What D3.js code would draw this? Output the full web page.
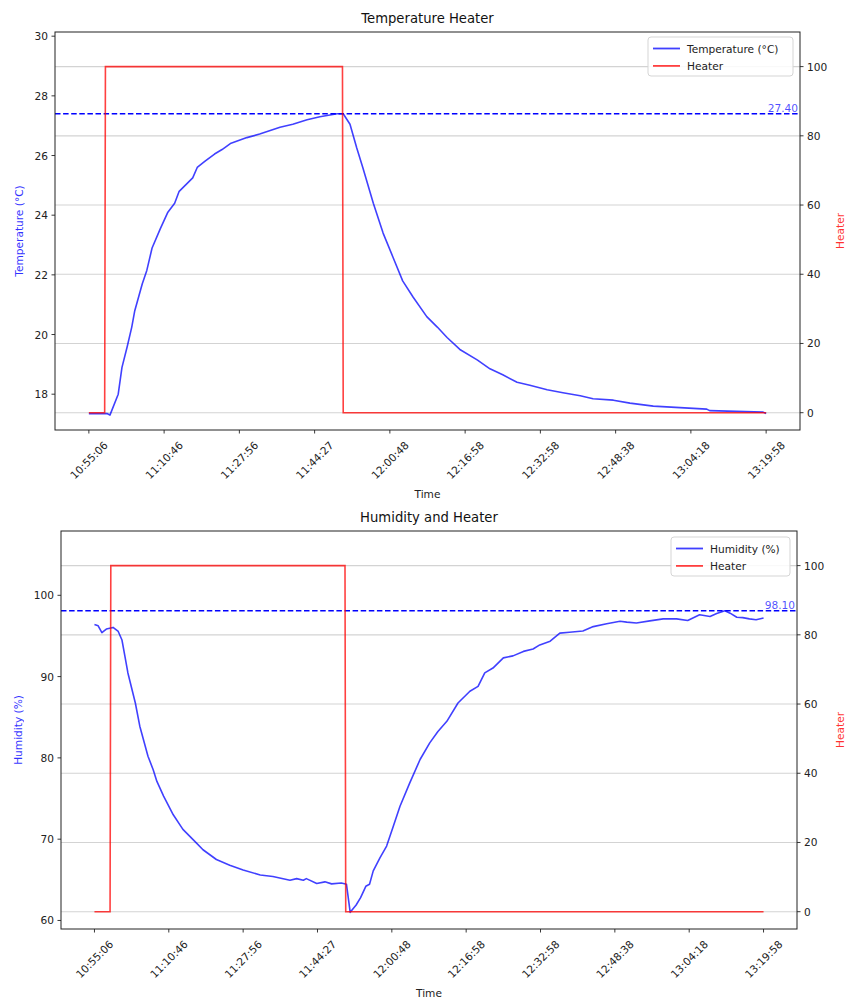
<!DOCTYPE html>
<html>
<head>
<meta charset="utf-8">
<script src="https://cdn.jsdelivr.net/npm/d3@7"></script>
<style>
  html, body { margin: 0; padding: 0; background: #fff; }
  svg { display: block; font-family: "DejaVu Sans", sans-serif; }
</style>
</head>
<body>
<svg id="chart" width="845" height="1000"></svg>
<script>
// ---------- DATA ----------
const xTickIndex = [0, 100, 200, 300, 400, 500, 600, 700, 800, 900];
const xTickLabels = ["10:55:06", "11:10:46", "11:27:56", "11:44:27", "12:00:48",
                     "12:16:58", "12:32:58", "12:48:38", "13:04:18", "13:19:58"];

const tempIndex = [0, 24, 28, 39, 44, 51, 57, 61, 71, 77, 84, 95, 105, 114, 120, 138, 144, 154,
  167, 177, 188, 210, 227, 254, 271, 290, 307, 330, 338, 347, 356, 364, 378, 391, 404, 417,
  431, 449, 463, 476, 493, 516, 533, 550, 569, 586, 609, 630, 653, 670, 697, 719, 750, 821,
  825, 896, 900];
const tempValues = [17.35, 17.35, 17.3, 18.0, 18.9, 19.6, 20.25, 20.8, 21.7, 22.15, 22.9, 23.55,
  24.1, 24.4, 24.8, 25.25, 25.6, 25.8, 26.05, 26.2, 26.4, 26.6, 26.72, 26.95, 27.05, 27.2, 27.3,
  27.4, 27.4, 27.05, 26.25, 25.6, 24.4, 23.4, 22.6, 21.8, 21.25, 20.6, 20.25, 19.9, 19.5, 19.15,
  18.85, 18.65, 18.4, 18.3, 18.15, 18.05, 17.95, 17.85, 17.8, 17.7, 17.6, 17.5, 17.45, 17.4, 17.35];

const humIndex = [0, 5, 10, 16, 25, 32, 37, 41, 45, 55, 61, 72, 79, 84, 93, 106, 119, 137, 146,
  164, 182, 200, 223, 240, 263, 272, 281, 285, 299, 310, 319, 332, 339, 344, 352, 358, 365, 370,
  375, 384, 393, 402, 411, 424, 438, 451, 462, 474, 489, 505, 516, 525, 536, 550, 563, 577, 590,
  599, 613, 626, 639, 657, 671, 689, 707, 716, 729, 747, 765, 783, 798, 814, 828, 837, 848, 855,
  864, 872, 881, 890, 900];
const humValues = [96.4, 96.25, 95.4, 95.85, 96.05, 95.55, 94.5, 92.5, 90.45, 86.75, 83.9, 80.2,
  78.55, 77.1, 75.3, 73.0, 71.2, 69.55, 68.7, 67.5, 66.8, 66.2, 65.6, 65.4, 64.95, 65.15, 64.95,
  65.15, 64.55, 64.75, 64.5, 64.6, 64.45, 61.0, 61.9, 62.8, 64.2, 64.45, 66.1, 67.7, 69.15, 71.6,
  74.05, 76.9, 79.8, 81.85, 83.25, 84.5, 86.75, 88.2, 88.8, 90.45, 91.05, 92.3, 92.55, 93.1, 93.4,
  93.9, 94.35, 95.35, 95.45, 95.6, 96.15, 96.5, 96.8, 96.7, 96.6, 96.85, 97.1, 97.1, 96.9, 97.6,
  97.4, 97.75, 98.1, 97.8, 97.3, 97.25, 97.1, 97.0, 97.2];

const heaterIndex = [0, 21, 22, 337, 338, 900];
const heaterValues = [0, 0, 100, 100, 0, 0];

const heaterTicks = [0, 20, 40, 60, 80, 100];
const tempTicks = [18, 20, 22, 24, 26, 28, 30];
const humTicks = [60, 70, 80, 90, 100];

// ---------- DRAW ----------
const svg = d3.select("#chart");
const BLUE = "rgba(0,0,255,0.75)";
const RED = "rgba(255,0,0,0.75)";
const FS = 10.6;

function drawPanel(cfg) {
  const { left, right, top, bottom, title, series, seriesIdx, yDomain, yTicks,
          yLabel, legendLabel, legendLeft, legendTop, maxLabelFmt } = cfg;
  const g = svg.append("g");
  const x = d3.scaleLinear().domain([-45, 945]).range([left, right]);
  const y = d3.scaleLinear().domain(yDomain).range([bottom, top]);
  const yh = d3.scaleLinear().domain([-5, 110]).range([bottom, top]);

  // grid from heater axis
  g.append("g").selectAll("line").data(heaterTicks).join("line")
    .attr("x1", left).attr("x2", right)
    .attr("y1", d => yh(d)).attr("y2", d => yh(d))
    .attr("stroke", "#d3d3d3").attr("stroke-width", 1.1);

  const clipId = "clip" + Math.round(top);
  g.append("clipPath").attr("id", clipId).append("rect")
    .attr("x", left).attr("y", top).attr("width", right - left).attr("height", bottom - top);

  const plot = g.append("g").attr("clip-path", `url(#${clipId})`);

  // main series
  const pts = seriesIdx.map((d, i) => [d, series[i]]);
  plot.append("path").datum(pts)
    .attr("fill", "none").attr("stroke", BLUE).attr("stroke-width", 1.6)
    .attr("stroke-linejoin", "round")
    .attr("d", d3.line().x(d => x(d[0])).y(d => y(d[1])));

  // max dashed line
  const maxV = d3.max(series);
  plot.append("line")
    .attr("x1", left).attr("x2", right)
    .attr("y1", y(maxV)).attr("y2", y(maxV))
    .attr("stroke", "#0000ff").attr("stroke-width", 1.5)
    .attr("stroke-dasharray", "5.5,2.6");
  g.append("text")
    .attr("x", right - 2).attr("y", y(maxV) - 1.5)
    .attr("text-anchor", "end").attr("font-size", FS)
    .attr("fill", "rgba(0,0,255,0.7)")
    .text(maxV.toFixed(2));

  // heater
  const hpts = heaterIndex.map((d, i) => [d, heaterValues[i]]);
  plot.append("path").datum(hpts)
    .attr("fill", "none").attr("stroke", RED).attr("stroke-width", 1.6)
    .attr("d", d3.line().x(d => x(d[0])).y(d => yh(d[1])));

  // frame
  g.append("rect").attr("x", left).attr("y", top)
    .attr("width", right - left).attr("height", bottom - top)
    .attr("fill", "none").attr("stroke", "#222").attr("stroke-width", 1);

  // left axis ticks
  const la = g.append("g");
  yTicks.forEach(t => {
    la.append("line").attr("x1", left - 3.5).attr("x2", left)
      .attr("y1", y(t)).attr("y2", y(t)).attr("stroke", "#222").attr("stroke-width", 0.9);
    la.append("text").attr("x", left - 7).attr("y", y(t))
      .attr("text-anchor", "end").attr("dominant-baseline", "central")
      .attr("font-size", FS).attr("fill", "#222").text(t);
  });
  // right axis ticks
  heaterTicks.forEach(t => {
    la.append("line").attr("x1", right).attr("x2", right + 3.5)
      .attr("y1", yh(t)).attr("y2", yh(t)).attr("stroke", "#222").attr("stroke-width", 0.9);
    la.append("text").attr("x", right + 7).attr("y", yh(t))
      .attr("text-anchor", "start").attr("dominant-baseline", "central")
      .attr("font-size", FS).attr("fill", "#222").text(t);
  });
  // x ticks
  xTickIndex.forEach((t, i) => {
    const xx = x(t);
    la.append("line").attr("x1", xx).attr("x2", xx)
      .attr("y1", bottom).attr("y2", bottom + 3.5).attr("stroke", "#222").attr("stroke-width", 0.9);
    la.append("text")
      .attr("transform", `translate(${xx},${bottom + 30}) rotate(-45)`)
      .attr("text-anchor", "middle").attr("dominant-baseline", "central")
      .attr("font-size", FS).attr("fill", "#222").text(xTickLabels[i]);
  });

  // labels
  const cx = (left + right) / 2, cy = (top + bottom) / 2;
  g.append("text").attr("x", cx).attr("y", top - 9)
    .attr("text-anchor", "middle").attr("font-size", 13.2).attr("fill", "#111").text(title);
  g.append("text").attr("x", cx).attr("y", bottom + 68)
    .attr("text-anchor", "middle").attr("font-size", FS).attr("fill", "#222").text("Time");
  g.append("text").attr("transform", `translate(${cfg.yLabelX},${cy}) rotate(-90)`)
    .attr("text-anchor", "middle").attr("dominant-baseline", "central")
    .attr("font-size", FS).attr("fill", "#0000ff").attr("opacity", 0.8).text(yLabel);
  g.append("text").attr("transform", `translate(840,${cy}) rotate(-90)`)
    .attr("text-anchor", "middle").attr("dominant-baseline", "central")
    .attr("font-size", FS).attr("fill", "#ff0000").attr("opacity", 0.8).text("Heater");

  // legend
  const lg = g.append("g");
  const lw = right - 7 - legendLeft;
  lg.append("rect").attr("x", legendLeft).attr("y", legendTop)
    .attr("width", lw).attr("height", 39).attr("rx", 3)
    .attr("fill", "rgba(255,255,255,0.85)").attr("stroke", "#d5d5d5").attr("stroke-width", 1);
  [[legendLabel, BLUE], ["Heater", RED]].forEach((e, i) => {
    const yy = legendTop + 11.5 + i * 17.4;
    lg.append("line").attr("x1", legendLeft + 5).attr("x2", legendLeft + 32)
      .attr("y1", yy).attr("y2", yy).attr("stroke", e[1]).attr("stroke-width", 1.8);
    lg.append("text").attr("x", legendLeft + 39).attr("y", yy)
      .attr("dominant-baseline", "central").attr("font-size", FS).attr("fill", "#222").text(e[0]);
  });
}

drawPanel({
  left: 55, right: 800, top: 32, bottom: 430,
  title: "Temperature Heater",
  series: tempValues, seriesIdx: tempIndex,
  yDomain: [16.8, 30.14], yTicks: tempTicks,
  yLabel: "Temperature (°C)", yLabelX: 19,
  legendLabel: "Temperature (°C)", legendLeft: 648, legendTop: 37
});

drawPanel({
  left: 61, right: 797, top: 531, bottom: 929,
  title: "Humidity and Heater",
  series: humValues, seriesIdx: humIndex,
  yDomain: [58.95, 107.91], yTicks: humTicks,
  yLabel: "Humidity (%)", yLabelX: 18,
  legendLabel: "Humidity (%)", legendLeft: 671, legendTop: 537
});
</script>
</body>
</html>
